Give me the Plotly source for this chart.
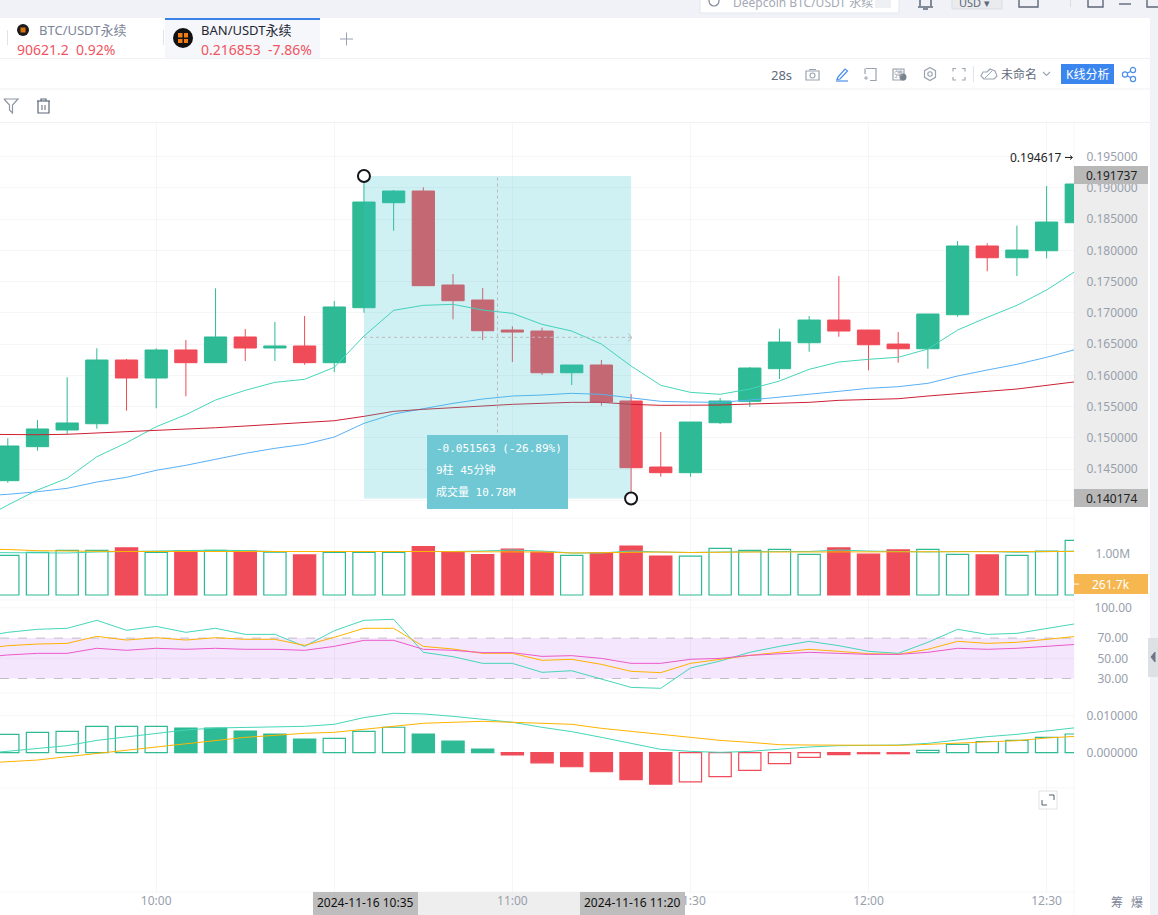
import pandas as pd
import plotly.graph_objects as go

# ---------- data ----------
times = pd.date_range("2024-11-16 09:35", periods=37, freq="5min")
line_times = pd.date_range("2024-11-16 09:30", periods=38, freq="5min")

opens = [.14316,.14860,.15127,.15227,.16246,.15958,.16406,.16203,.16614,.16438,.16470,.16203,.17082,.18761,.18948,.17445,.17205,.16725,.16709,.16042,.16166,.15590,.14535,.14444,.15243,.15585,.16107,.16522,.16885,.16725,.16501,.16426,.16970,.18069,.17881,.17993,.18441]
closes = [.14871,.15143,.15239,.16246,.15958,.16406,.16203,.16614,.16438,.16470,.16203,.17094,.18772,.18948,.17434,.17194,.16714,.16693,.16042,.16166,.15574,.14524,.14444,.15254,.15590,.16118,.16533,.16885,.16709,.16490,.16426,.16981,.18069,.17881,.18004,.18452,.19060]
highs = [.14994,.15287,.15969,.16433,.16262,.16433,.16566,.17392,.16742,.16854,.16950,.17190,.19188,.18964,.19007,.17621,.17397,.16784,.16762,.16166,.16246,.15702,.15094,.15254,.15638,.16134,.16746,.16949,.17589,.16725,.16693,.16981,.18148,.18112,.18393,.19028,.194617]
lows = [.14284,.14796,.15063,.15147,.15435,.15474,.15666,.16203,.16230,.16230,.16171,.16054,.17002,.18313,.17434,.16896,.16565,.16214,.16006,.15846,.15515,.14031,.14380,.14380,.15222,.15494,.15942,.16378,.16618,.16081,.16203,.16107,.16938,.17664,.17589,.17872,.18441]

ma_teal = [.13671,.13927,.14167,.14354,.14699,.14923,.15179,.15371,.15606,.15761,.15889,.15937,.16129,.16629,.17040,.17120,.17136,.17045,.16992,.16816,.16709,.16501,.16150,.15841,.15729,.15697,.15782,.15910,.16097,.16214,.16257,.16289,.16421,.16725,.16928,.17120,.17365,.17673]
ma_blue = [.14071,.14098,.14140,.14194,.14295,.14370,.14482,.14562,.14658,.14754,.14834,.14898,.15014,.15233,.15382,.15473,.15553,.15622,.15670,.15686,.15713,.15697,.15643,.15585,.15574,.15569,.15606,.15649,.15697,.15745,.15793,.15819,.15873,.15990,.16086,.16177,.16289,.16417]
ma_red = [.15058,.15051,.15051,.15058,.15078,.15106,.15122,.15137,.15163,.15190,.15217,.15249,.15275,.15345,.15425,.15457,.15478,.15510,.15537,.15553,.15569,.15569,.15537,.15521,.15521,.15526,.15542,.15553,.15569,.15601,.15617,.15627,.15670,.15713,.15745,.15782,.15835,.15899]

volume = [.95,1.02,1.07,1.07,1.13,1.02,1.06,1.07,1.06,1.03,.96,1.02,1.02,1.02,1.16,1.03,.97,1.10,1.03,.95,1.01,1.175,.935,.93,1.12,1.07,1.095,.975,1.13,.98,1.08,1.095,.975,.96,.95,1.05,1.31]
vol_ma_orange = [1.10,1.091,1.062,1.048,1.048,1.043,1.041,1.041,1.043,1.043,1.043,1.043,1.043,1.043,1.043,1.043,1.043,1.043,1.043,1.031,1.007,1.019,1.031,1.031,1.019,1.031,1.031,1.031,1.031,1.041,1.041,1.041,1.041,1.031,1.031,1.031,1.031,1.043]
vol_ma_green = [1.019,1.019,1.007,1.007,1.031,1.043,1.067,1.067,1.072,1.067,1.043,1.043,1.043,1.031,1.031,1.043,1.043,1.055,1.079,1.055,1.007,1.007,1.055,1.031,1.019,1.031,1.043,1.043,1.043,1.079,1.055,1.043,1.031,1.043,1.043,1.024,1.031,1.055]

rsi_green = [70.8,75.7,78.7,79.7,87.6,77.7,81.6,75.7,79.7,73.7,73.7,61.8,77.3,87.6,88.6,55.9,51.6,45,45,36.1,37.7,29.2,21.2,20.3,40.4,47.3,55.9,61.8,66.8,62.5,56.9,54.9,65.8,78.7,73.7,74.7,79.7,84.3]
rsi_orange = [58.9,62.5,64.1,64.8,71.7,68.1,70.4,68.1,70.4,68.8,68.8,62.8,70.7,79.7,79.7,61.8,59.2,54.9,54.9,48,49,44,37.1,35.8,45,49,52.9,55.9,58.9,56.9,54.6,53.9,58.9,66.8,64.8,65.8,68.8,71.7]
rsi_magenta = [50.6,53.3,54.9,54.9,59.9,57.9,59.9,58.9,59.9,58.9,58.9,57.9,61.8,67.8,67.8,58.9,57.9,55.6,55.6,51.9,52.6,49.9,45,45,49,49.9,52.9,54.6,55.9,54.9,53.9,53.9,55.9,59.9,58.9,59.9,61.8,63.8]

macd_hist = [.0049,.00545,.0057,.00705,.00705,.00705,.0066,.0066,.0058,.005,.00366,.00384,.0057,.0068,.005,.0031,.00098,-.0006,-.0027,-.00375,-.0051,-.0072,-.0084,-.0078,-.0064,-.0047,-.0029,-.00125,-.00054,-.00027,-.00027,.0006,.0022,.003,.0033,.0041,.005]
macd_dif = [-.00036,.00036,.00116,.00188,.0033,.00429,.00518,.00607,.00661,.00679,.00696,.00705,.00759,.00938,.01054,.01036,.00973,.00902,.00813,.00679,.00563,.00411,.0025,.00089,.00036,.00009,.00036,.00098,.00152,.00188,.00196,.00205,.0025,.00348,.00429,.00491,.0058,.0067]
macd_dea = [-.00286,-.00241,-.00196,-.00107,-.00018,.00063,.00152,.0025,.00339,.00411,.00464,.00518,.00545,.00625,.00696,.00786,.00813,.00839,.00813,.00795,.00759,.00652,.0058,.00491,.00411,.0033,.00277,.00214,.00205,.00205,.00205,.00196,.00223,.0025,.00286,.00321,.00393,.00438]
macd_solid = [0,0,0,0,0,0,1,1,1,1,1,0,0,0,1,1,1,1,1,1,1,1,1,0,0,0,0,0,1,1,1,0,0,0,0,0,0]

price_ticks = [.14,.145,.15,.155,.16,.165,.17,.175,.18,.185,.19,.195]
time_ticks = ["10:00", "10:30", "11:00", "11:30", "12:00", "12:30"]
rsi_ticks = [30, 50, 70, 100]
macd_ticks = [0, .01]
measure_high = .19188
measure_low = .14031
current_volume = .2617

# ---------- layout geometry (pixels) ----------
W, H = 1158, 915
PLOT_R = 1074
def X(x): return x / W
def Y(y): return 1 - y / H
def dom(top, bottom): return [Y(bottom), Y(top)]

GREEN, RED = "#2DBA94", "#F04B58"
TEAL, BLUE, DRED, ORANGE, MAG = "#45D6B8", "#5AB0F6", "#CE1F33", "#FFB300", "#EC5AC8"
GRID = "rgba(0,0,0,0.035)"
TICK = "#98A0AC"
FONT = "Noto Sans, Noto Sans CJK SC, sans-serif"
MONO = "DejaVu Sans Mono, Noto Sans CJK SC, monospace"

shapes, annos = [], []
def rect(x0, y0, x1, y1, fill=None, line=None, lw=1, layer="above"):
    shapes.append(dict(type="rect", xref="paper", yref="paper", x0=X(x0), x1=X(x1), y0=Y(y0), y1=Y(y1),
                       fillcolor=fill or "rgba(0,0,0,0)", line=dict(color=line or "rgba(0,0,0,0)", width=lw if line else 0), layer=layer))
def line(x0, y0, x1, y1, color, lw=1, layer="above", dash=None):
    shapes.append(dict(type="line", xref="paper", yref="paper", x0=X(x0), x1=X(x1), y0=Y(y0), y1=Y(y1),
                       line=dict(color=color, width=lw, dash=dash), layer=layer))
def circle(cx, cy, r, fill=None, lc=None, lw=1, layer="above"):
    shapes.append(dict(type="circle", xref="paper", yref="paper", x0=X(cx-r), x1=X(cx+r), y0=Y(cy+r), y1=Y(cy-r),
                       fillcolor=fill or "rgba(0,0,0,0)", line=dict(color=lc or "rgba(0,0,0,0)", width=lw if lc else 0), layer=layer))
def poly(pts, color, lw=1.2, fill=None, close=False):
    d = "M" + " L".join(f"{X(a):.5f},{Y(b):.5f}" for a, b in pts) + (" Z" if close else "")
    shapes.append(dict(type="path", xref="paper", yref="paper", path=d, line=dict(color=color, width=lw),
                       fillcolor=fill or "rgba(0,0,0,0)", layer="above"))
def text(x, y, s, size=12, color="#333", anchor="left", family=FONT):
    annos.append(dict(xref="paper", yref="paper", x=X(x), y=Y(y), text=s, showarrow=False, xanchor=anchor, yanchor="middle",
                      font=dict(size=size, color=color, family=family), borderpad=0, borderwidth=0))

# ---------- panels ----------
P_TOP, P_BOT = 123, 518
V_BOT, R_BOT, M_BOT = 600, 693, 892
def price_at(y): return .220024 - y * .0001599
def vol_at(y): return (595 - y) / 41.7
def rsi_at(y): return (708.8 - y) / 1.01
def macd_at(y): return (752.7 - y) / 3740

# time axis: 10:00 sits at x=156, 29.68 px per 5-minute bar
T0 = pd.Timestamp("2024-11-16 10:00")
def time_at(x): return T0 + pd.Timedelta(minutes=(x - 156.2) / 29.68 * 5)

fig = go.Figure()
fig.add_trace(go.Candlestick(x=times, open=opens, high=highs, low=lows, close=closes, yaxis="y", xaxis="x",
    increasing=dict(line=dict(color=GREEN, width=1), fillcolor=GREEN),
    decreasing=dict(line=dict(color=RED, width=1), fillcolor=RED), whiskerwidth=0, showlegend=False))
for s, c in ((ma_teal, TEAL), (ma_blue, BLUE), (ma_red, DRED)):
    fig.add_trace(go.Scatter(x=line_times, y=s, mode="lines", line=dict(color=c, width=1), yaxis="y", showlegend=False))

is_up = [c >= o for o, c in zip(opens, closes)]
fig.add_trace(go.Bar(x=times, y=volume, width=225000, yaxis="y2",
    marker=dict(color=["rgba(0,0,0,0)" if u else RED for u in is_up],
                line=dict(color=[GREEN if u else RED for u in is_up], width=1.2)), showlegend=False))
for s, c in ((vol_ma_green, TEAL), (vol_ma_orange, ORANGE)):
    fig.add_trace(go.Scatter(x=line_times, y=s, mode="lines", line=dict(color=c, width=1), yaxis="y2", showlegend=False))

for s, c in ((rsi_green, TEAL), (rsi_orange, ORANGE), (rsi_magenta, MAG)):
    fig.add_trace(go.Scatter(x=line_times, y=s, mode="lines", line=dict(color=c, width=1), yaxis="y3", showlegend=False))

hist_col = [GREEN if v >= 0 else RED for v in macd_hist]
fig.add_trace(go.Bar(x=times, y=macd_hist, width=225000, yaxis="y4",
    marker=dict(color=[c if s else "rgba(0,0,0,0)" for c, s in zip(hist_col, macd_solid)],
                line=dict(color=hist_col, width=1.2)), showlegend=False))
for s, c in ((macd_dif, TEAL), (macd_dea, ORANGE)):
    fig.add_trace(go.Scatter(x=line_times, y=s, mode="lines", line=dict(color=c, width=1), yaxis="y4", showlegend=False))

# ---------- page chrome ----------
STRIP = "#F0F2F7"
rect(0, 0, W, 18, STRIP, layer="below")
rect(1150, 0, W, H, STRIP, layer="below")
line(0, 58.5, 1150, 58.5, "#F0F1F4", layer="below")
line(0, 89, 1150, 89, "#F0F1F4", layer="below")
line(0, 122.5, 1150, 122.5, "#F0F1F4", layer="below")
rect(165, 18, 320, 58, "#F5F7FB", layer="below")
rect(165, 18, 320, 20, "#3A82E6", layer="below")
line(7.5, 30, 7.5, 45, "#E0E2E6")
line(163.5, 30, 163.5, 45, "#E0E2E6")
circle(23, 30, 6, "#1B1B1B"); rect(20.5, 27.5, 25.5, 32.5, "#D9730F")
circle(183, 38, 10, "#111111"); rect(178, 33, 182.5, 37.5, "#F07C12"); rect(184, 33, 188, 37.5, "#F07C12")
rect(178, 39, 182.5, 43, "#F07C12"); rect(184, 39, 188, 43, "#F07C12")
text(39, 30, "BTC/USDT永续", 13, "#7C8698")
text(17, 49, "90621.2&nbsp;&nbsp;0.92%", 14, "#F0545F")
text(201, 30, "BAN/USDT永续", 13, "#1F2733")
text(201, 49, "0.216853&nbsp;&nbsp;-7.86%", 14, "#F0545F")
line(340, 39, 353, 39, "#98A2B3"); line(346.5, 32.5, 346.5, 45.5, "#98A2B3")

# top strip (cut off by the window edge)
shapes.append(dict(type="rect", xref="paper", yref="paper", x0=X(700), x1=X(899), y0=Y(13), y1=Y(-6), fillcolor="#FFFFFF",
                   line=dict(color="#E3E6EC", width=1), layer="below"))
text(733, 3, "Deepcoin BTC/USDT 永续", 12, "#A3A9B5")
rect(875, -3, 891, 8, "#EEF0F3")
circle(714, 1, 5, None, "#7C8698", 1.2)
poly([(918, 7), (933, 7)], "#5E6878", 1.5); poly([(920, 6), (920, -2)], "#5E6878", 1.5); poly([(931, 6), (931, -2)], "#5E6878", 1.5)
poly([(923, 9), (928, 9)], "#5E6878", 1.5)
rect(952, -3, 1002, 9, "#E9EBEF", "#DADDE3")
text(959, 2, "USD ▾", 11, "#5E6878")
poly([(1019, -1), (1019, 7), (1038, 7), (1038, -1)], "#5E6878", 1.4)
line(1070.5, 0, 1070.5, 7, "#D8DBE1")
poly([(1088, -1), (1088, 7), (1103, 7), (1103, -1)], "#5E6878", 1.4)
line(1119, 4, 1131, 4, "#5E6878", 1.4)
poly([(1147, -1), (1147, 7), (1158, 7)], "#5E6878", 1.4)

# toolbar
ICON = "#9AA3B0"
text(771, 74.5, "28s", 13, "#5F6B7C")
rect(806, 71, 819, 80, None, ICON, 1.2); circle(812.5, 75.5, 2.5, None, ICON, 1.1); line(809, 69.5, 816, 69.5, ICON)
poly([(838, 77), (845, 69), (847.5, 71), (840, 79), (837, 79.5), (838, 77)], "#4A8EEA", 1.2); line(836, 81, 848, 81, "#4A8EEA", 1.2)
poly([(866, 68.5), (876, 68.5), (876, 80.5), (870, 80.5)], ICON, 1.2); poly([(865, 68.5), (865, 74)], ICON, 1.2)
line(864, 78, 868, 78, ICON); line(866, 76, 866, 80, ICON)
rect(893, 69, 904, 80, None, ICON, 1.2); circle(903, 77, 3.5, "#79828F"); text(898.5, 74, "弹", 9, ICON, "center")
poly([(930, 67.5), (935.5, 70.7), (935.5, 77.3), (930, 80.5), (924.5, 77.3), (924.5, 70.7), (930, 67.5)], ICON, 1.2); circle(930, 74, 2.2, None, ICON, 1.1)
for (a, b), (dx, dy) in zip([(953, 68.5), (965, 68.5), (953, 80), (965, 80)], [(1, 1), (-1, 1), (1, -1), (-1, -1)]):
    poly([(a, b + 3 * dy), (a, b), (a + 3 * dx, b)], ICON, 1.1)
line(973.5, 66, 973.5, 82, "#E2E4E8")
poly([(984, 79), (981, 76), (983, 72), (987, 72), (990, 69), (995, 71), (997, 76), (994, 79), (984, 79)], ICON, 1.1)
line(985, 78, 992, 71, ICON)
text(1001, 74.5, "未命名", 12, "#5F6B7C")
poly([(1043, 72), (1046.5, 75.5), (1050, 72)], ICON, 1.1)
shapes.append(dict(type="rect", xref="paper", yref="paper", x0=X(1061), x1=X(1114), y0=Y(84), y1=Y(64), fillcolor="#3A86EE",
                   line=dict(width=0), layer="above"))
text(1087.5, 74.5, "K线分析", 12, "#FFFFFF", "center")
poly([(1133, 70), (1125, 74.5), (1133, 79)], "#4A8EEA", 1.2)
circle(1133, 70, 2.6, "#FFFFFF", "#4A8EEA", 1.2); circle(1125, 74.5, 2.6, "#FFFFFF", "#4A8EEA", 1.2); circle(1133, 79, 2.6, "#FFFFFF", "#4A8EEA", 1.2)

# filter + trash
poly([(4, 99), (18, 99), (12.5, 105), (12.5, 113), (9.5, 110), (9.5, 105), (4, 99)], "#8E97A5", 1.2)
poly([(37, 101), (50, 101)], "#5E6878", 1.2); poly([(41, 101), (41, 99), (46, 99), (46, 101)], "#5E6878", 1.2)
poly([(38, 101), (38, 113), (49, 113), (49, 101)], "#5E6878", 1.2); line(42, 105, 42, 110, "#5E6878"); line(45, 105, 45, 110, "#5E6878")

# right axis background, collapse handle
rect(PLOT_R, 175, 1148, 505, "#EDEDED", layer="below")
rect(1148, 638, W, 677, "#DDE0E5", layer="above")
poly([(1155, 652), (1151, 657), (1155, 662), (1155, 652)], "#6C7684", 1, "#6C7684", True)

# separators
for sy in (518, 600, 693, 788, M_BOT):
    line(0, sy, PLOT_R, sy, GRID, layer="below")
line(PLOT_R, P_TOP, PLOT_R, 915, GRID, layer="below")

# RSI band
shapes.append(dict(type="rect", xref="paper", yref="y3", x0=0, x1=X(PLOT_R), y0=30, y1=70,
                   fillcolor="#F4E6FD", line=dict(width=0), layer="below"))
for v in (30, 70):
    shapes.append(dict(type="line", xref="paper", yref="y3", x0=0, x1=X(PLOT_R), y0=v, y1=v,
                       line=dict(color="#C4BCC8", width=1, dash="dash"), layer="below"))
for v in (100, 50):
    shapes.append(dict(type="line", xref="paper", yref="y3", x0=0, x1=X(PLOT_R), y0=v, y1=v,
                       line=dict(color=GRID, width=1), layer="below"))

# measuring box
t_a, t_b = times[12], times[21]
t_m = times[12] + (times[21] - times[12]) / 2
p_m = (measure_high + measure_low) / 2
shapes.append(dict(type="rect", xref="x", yref="y", x0=t_a, x1=t_b, y0=measure_low, y1=measure_high,
                   fillcolor="rgba(60,195,205,0.24)", line=dict(width=0), layer="above"))
DASH = "#B9B9B9"
shapes.append(dict(type="line", xref="x", yref="y", x0=t_a, x1=t_b, y0=p_m, y1=p_m, line=dict(color=DASH, width=1, dash="3px,3px"), layer="above"))
shapes.append(dict(type="line", xref="x", yref="y", x0=t_m, x1=t_m, y0=measure_low, y1=measure_high, line=dict(color=DASH, width=1, dash="3px,3px"), layer="above"))
poly([(628, 333.5), (632, 337.5), (628, 341.5)], DASH, 1)
for t, p in ((t_a, measure_high), (t_b, measure_low)):
    shapes.append(dict(type="circle", xref="x", yref="y", xsizemode="pixel", ysizemode="pixel", xanchor=t, yanchor=p,
                       x0=-6, x1=6, y0=-6, y1=6, fillcolor="#FFFFFF", line=dict(color="#15161A", width=2), layer="above"))
rect(427, 435, 568, 509, "#70C8D4")
text(436, 448, "-0.051563 (-26.89%)", 11, "#FFFFFF", family=MONO)
text(436, 470, "9柱 45分钟", 11, "#FFFFFF", family=MONO)
text(436, 492, "成交量 10.78M", 11, "#FFFFFF", family=MONO)

# value tags
TAG = "#B8B8B8"
rect(PLOT_R, 166, 1148, 184, TAG); text(1111, 175, "0.191737", 12, "#222222", "center")
rect(PLOT_R, 489, 1148, 507, TAG); text(1111, 498, "0.140174", 12, "#222222", "center")
text(1010, 157, "0.194617", 12, "#222222")
poly([(1065, 157.5), (1072, 157.5)], "#222222", 1); poly([(1070, 155.5), (1072.5, 157.5), (1070, 159.5)], "#222222", 1)
vy = 595 - current_volume * 41.7
rect(PLOT_R, 574, 1148, 594, "#F6B750")
line(PLOT_R, vy, PLOT_R + 5, vy, "#FFFFFF")
text(1111, 584, "261.7k", 12, "#FFFFFF", "center")

# bottom tags
rect(418, M_BOT, 580, H, "#EEEEEE", layer="below")
rect(313, M_BOT, 418, H, "#BDBDBD"); text(365.5, 902.5, "2024-11-16 10:35", 12, "#111111", "center")
rect(580, M_BOT, 685, H, "#BDBDBD"); text(632.5, 902.5, "2024-11-16 11:20", 12, "#111111", "center")
text(1117, 902.5, "筹", 12, "#7C8698", "center"); text(1137, 902.5, "爆", 12, "#7C8698", "center")

# resize icon
rect(1039, 791, 1057, 809, "#FFFFFF", "#E0E2E6")
poly([(1049, 795), (1054, 795), (1054, 800)], "#555E6C", 1)
poly([(1042, 800), (1042, 805), (1047, 805)], "#555E6C", 1)

# ---------- axes ----------
tf = dict(size=12, color=TICK, family=FONT)
def yax(top, bot, at, **kw):
    base = dict(domain=dom(top, bot), range=[at(bot), at(top)], side="right", anchor="x", showline=False,
                zeroline=False, ticks="outside", tickcolor="rgba(0,0,0,0)", tickfont=tf, fixedrange=True)
    base.update(kw)
    return base

fig.update_layout(
    width=W, height=H, margin=dict(l=0, r=0, t=0, b=0, pad=0), autosize=False,
    paper_bgcolor="#FFFFFF", plot_bgcolor="rgba(0,0,0,0)", showlegend=False, boxgap=0.25, boxgroupgap=0, bargap=0,
    font=dict(family=FONT), shapes=shapes, annotations=annos, hovermode=False,
    xaxis=dict(domain=[0, X(PLOT_R)], range=[time_at(0), time_at(PLOT_R)], anchor="y4", type="date",
               tickmode="array", tickvals=[T0 + pd.Timedelta(minutes=30 * i) for i in range(len(time_ticks))], ticktext=time_ticks,
               showgrid=True, gridcolor=GRID, gridwidth=1, zeroline=False, showline=False, ticks="", tickfont=tf,
               rangeslider=dict(visible=False), fixedrange=True, ticklabelposition="outside"),
    yaxis=yax(P_TOP, P_BOT, price_at, tickmode="array", tickvals=price_ticks, ticktext=[f"{v:.6f}" for v in price_ticks],
              showgrid=True, gridcolor=GRID, ticklen=9),
    yaxis2=yax(P_BOT, V_BOT, vol_at, tickmode="array", tickvals=[1.0], ticktext=["1.00M"], showgrid=False, ticklen=18),
    yaxis3=yax(V_BOT, R_BOT, rsi_at, tickmode="array", tickvals=rsi_ticks,
               ticktext=["\u00a030.00", "\u00a050.00", "\u00a070.00", "100.00"], showgrid=False, ticklen=17),
    yaxis4=yax(R_BOT, M_BOT, macd_at, tickmode="array", tickvals=macd_ticks, ticktext=[f"{v:.6f}" for v in macd_ticks],
               showgrid=True, gridcolor=GRID, ticklen=9),
)

fig.write_html("out.html", config=dict(displayModeBar=False, staticPlot=True),
               post_script="document.body.style.margin='0';document.documentElement.style.overflow='hidden';")
